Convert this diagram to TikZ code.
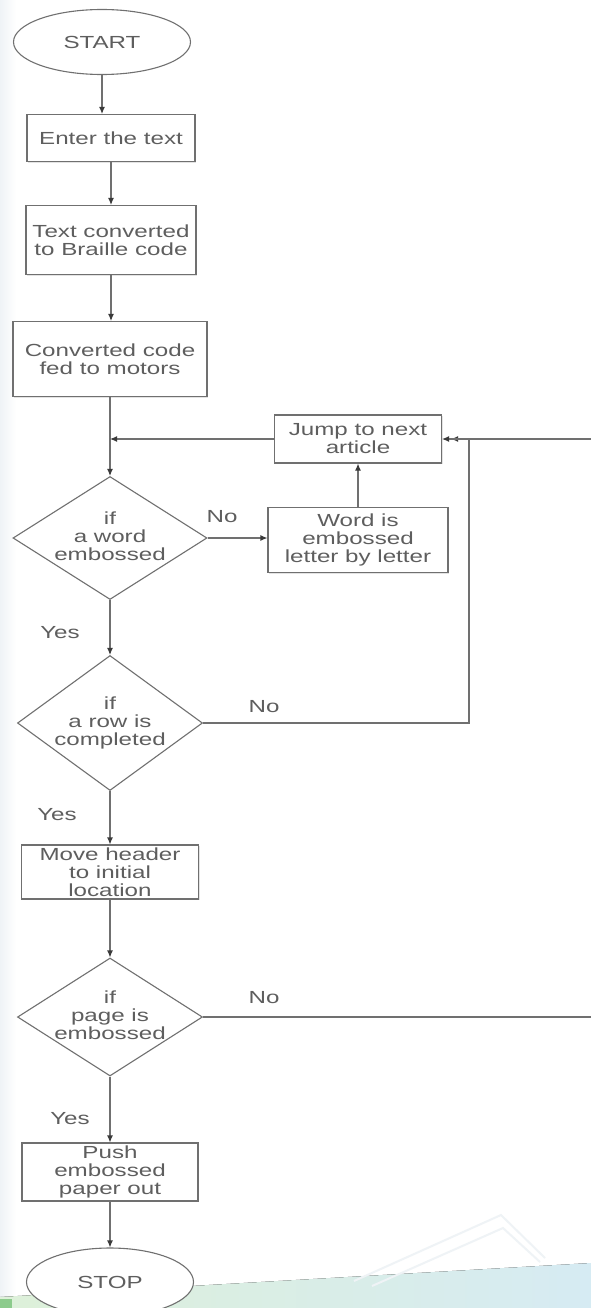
\documentclass[tikz,border=0pt]{standalone}
\usepackage{fontspec}
\setmainfont{Liberation Sans}[FakeStretch=1.38]
\usetikzlibrary{shapes.geometric,arrows.meta,shadows}

\definecolor{ink}{HTML}{5E5E5E}
\definecolor{edge}{HTML}{707070}
\definecolor{tipc}{HTML}{3A3A3A}
\definecolor{bandL}{HTML}{DDF0D9}
\definecolor{bandR}{HTML}{D6EBF3}
\definecolor{faint}{HTML}{EFF3F6}

% decision text: a zero-size box so the diamond keeps its given size
\newcommand\qtext[1]{\makebox[0pt]{\raisebox{-0.3em}[0pt][0pt]{\begin{tabular}{@{}c@{}}#1\end{tabular}}}}

\tikzset{
  base/.style={draw=edge, fill=white, line width=1.1pt, text=ink, inner sep=0pt,
    font=\fontsize{17.5}{18}\selectfont, align=center},
  procbox/.style={base, rectangle, drop shadow={shadow xshift=1.2pt, shadow yshift=-1.2pt, opacity=.22}},
  terminal/.style={base, ellipse},
  decision/.style={base, diamond},
  lbl/.style={text=ink, inner sep=0pt, font=\fontsize{17.5}{18}\selectfont},
  flow/.style={draw=edge, line width=1.1pt},
  arr/.style={flow, -{Latex[length=7pt,width=6pt,color=tipc]}}
}

\begin{document}
\begin{tikzpicture}[x=1pt, y=-1pt]
\useasboundingbox (0,0) rectangle (591,1308);
\clip (0,0) rectangle (591,1308);
\fill[white] (0,0) rectangle (591,1308);

% soft backdrop: left edge tint and bottom band
\fill[left color=faint, right color=white] (0,0) rectangle (16,1308);
\fill[left color=bandL, right color=bandR] (0,1297) -- (591,1263) -- (591,1308) -- (0,1308) -- cycle;
\fill[green!55!black!45] (0,1299) rectangle (12,1308);
\draw[faint, line width=2pt] (354,1281) -- (501,1215) -- (545,1258);
\draw[faint, line width=2pt] (372,1286) -- (503,1228) -- (540,1262);

% main column
\node[terminal, minimum width=177pt, minimum height=65pt] (start) at (102,42) {START};
\node[procbox, minimum width=168pt, minimum height=47pt] (enter) at (111,138) {Enter the text};
\node[procbox, minimum width=170pt, minimum height=69pt] (conv) at (111,240) {Text converted\\to Braille code};
\node[procbox, minimum width=194pt, minimum height=75pt] (motor) at (110,359) {Converted code\\fed to motors};
\node[decision, minimum width=194pt, minimum height=123pt] (d1) at (110,538) {\qtext{if\\a word\\embossed}};
\node[decision, minimum width=185pt, minimum height=135pt] (d2) at (110,723) {\qtext{if\\a row is\\completed}};
\node[procbox, minimum width=177pt, minimum height=54pt] (move) at (110,872) {Move header\\to initial\\location};
\node[decision, minimum width=185pt, minimum height=118pt] (d3) at (110,1017) {\qtext{if\\page is\\embossed}};
\node[procbox, minimum width=176pt, minimum height=58pt] (push) at (110,1172) {Push\\embossed\\paper out};
\node[terminal, minimum width=167pt, minimum height=68pt] (stop) at (110,1282) {STOP};

% side branch
\node[procbox, minimum width=167pt, minimum height=48pt] (jump) at (358,439) {Jump to next\\article};
\node[procbox, minimum width=180pt, minimum height=65pt] (word) at (358,540) {Word is\\embossed\\letter by letter};

% branch labels
\node[lbl] (no1) at (222,517) {No};
\node[lbl] (yes1) at (60,633) {Yes};
\node[lbl] (no2) at (264,707) {No};
\node[lbl] (yes2) at (57,815) {Yes};
\node[lbl] (no3) at (264,998) {No};
\node[lbl] (yes3) at (70,1119) {Yes};

% routing points
\coordinate (join) at (motor.south |- jump.west);
\coordinate (busA) at (469,439);
\coordinate (busB) at (620,439);

% connectors
\draw[arr] (start.south) -- (start.south |- enter.north);
\draw[arr] (enter.south) -- (enter.south |- conv.north);
\draw[arr] (conv.south) -- (conv.south |- motor.north);
\draw[arr] (motor.south) -- (d1.north);
\draw[arr] (jump.west) -- (join);
\draw[arr] (d1.east) -- (d1.east -| word.west);
\draw[arr] (word.north) -- (word.north |- jump.south);
\draw[arr] (d1.south) -- (d2.north);
\draw[arr] (d2.south) -- (move.north);
\draw[arr] (move.south) -- (d3.north);
\draw[arr] (d3.south) -- (push.north);
\draw[arr] (push.south) -- (stop.north);
\draw[arr] (d2.east) -- (d2.east -| busA) -- (busA) -- ([xshift=9pt]jump.east);
\draw[arr] (d3.east) -- (d3.east -| busB) -- (busB) -- (jump.east);
\end{tikzpicture}
\end{document}
